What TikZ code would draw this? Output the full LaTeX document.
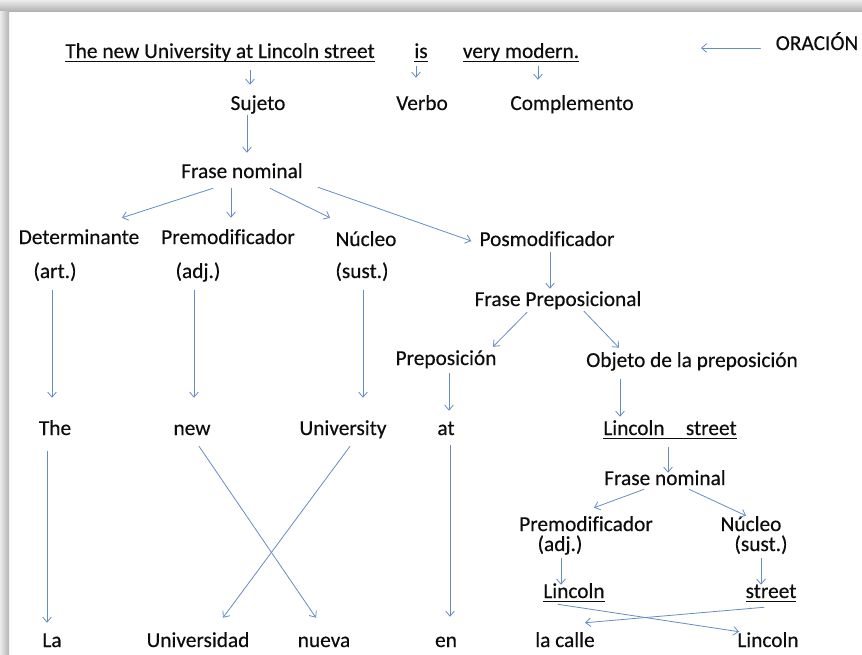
\documentclass[tikz,border=0pt]{standalone}
\usepackage{fontspec}
\setmainfont{Carlito}
\newfontfamily\lblfont{Carlito}[FakeBold=0.4,Ligatures={NoCommon}]
\usetikzlibrary{calc,arrows.meta}
\definecolor{lineblue}{rgb}{0.40,0.55,0.76}
\definecolor{txtgray}{rgb}{0.05,0.05,0.05}
\newcommand{\ulword}[1]{\setbox0=\hbox{#1}\rlap{\rule[-3pt]{\wd0}{1pt}}\box0}

\begin{document}
\begin{tikzpicture}[line cap=round,line join=round,>={Straight Barb[length=3.8pt,width=6.5pt]},x=0.75pt,y=-0.75pt,
  lbl/.style={anchor=base,inner sep=0pt,text height=12pt,text depth=3pt,font=\lblfont\fontsize{16}{19}\selectfont,text=txtgray},
  arr/.style={->,draw=lineblue,line width=0.6pt}]
\useasboundingbox (0,0) rectangle (862,654);
\shade [top color=gray!15,bottom color=gray!60] (0,0) rectangle (862,11);
\shade [left color=gray!15,right color=gray!60] (0,11) rectangle (9,654);
\node [lbl] (subj) at (220,58) {\ulword{The new University at Lincoln street}};
\node [lbl] (is) at (421,58) {\ulword{is}};
\node [lbl] (vm) at (521,58) {\ulword{very modern.}};
\node [lbl] (oracion) at (817,50) {ORACIÓN};
\coordinate (orac-tip) at (701,48);
\node [lbl] (suj) at (258,110) {Sujeto};
\node [lbl] (verbo) at (422,110) {Verbo};
\node [lbl] (compl) at (572,110) {Complemento};
\node [lbl] (fn) at (242,178) {Frase nominal};
\node [lbl] (det) at (79,244) {Determinante};
\node [lbl] (pre) at (228,244) {Premodificador};
\node [lbl] (nuc) at (366,246) {Núcleo};
\node [lbl] (pos) at (547,246) {Posmodificador};
\node [lbl] (art) at (55,278) {(art.)};
\node [lbl] (adj) at (198,278) {(adj.)};
\node [lbl] (sust) at (362,278) {(sust.)};
\node [lbl] (fp) at (558,306) {Frase Preposicional};
\node [lbl] (prep) at (446,365) {Preposición};
\node [lbl] (obj) at (692,367) {Objeto de la preposición};
\node [lbl] (the) at (55,435) {The};
\node [lbl] (new) at (192,435) {new};
\node [lbl] (univ) at (343,435) {University};
\node [lbl] (at) at (446,435) {at};
\node [lbl] (ls) at (670,435) {\ulword{Lincoln\hspace{1em}street}};
\node [lbl] (fn2) at (665,485) {Frase nominal};
\node [lbl] (pre2) at (586,531) {Premodificador};
\node [lbl] (nuc2) at (751,531) {Núcleo};
\node [lbl] (adj2) at (560,551) {(adj.)};
\node [lbl] (sust2) at (761,551) {(sust.)};
\node [lbl] (lin2) at (574,598) {\ulword{Lincoln}};
\node [lbl] (str2) at (771,598) {\ulword{street}};
\node [lbl] (la) at (52,647) {La};
\node [lbl] (unid) at (198,647) {Universidad};
\node [lbl] (nueva) at (324,647) {nueva};
\node [lbl] (en) at (446,647) {en};
\node [lbl] (calle) at (565,647) {la calle};
\node [lbl] (lin3) at (768,647) {Lincoln};
\draw [arr] ($(subj.south)+(30,8)$) -- ($(suj.north)+(-8,-9)$);
\draw [arr] ($(is.south)+(-5,4)$) -- ($(verbo.north)+(-6,-16)$);
\draw [arr] ($(vm.south)+(17,4)$) -- ($(compl.north)+(-34,-14)$);
\draw [arr] ($(oracion.west)+(-15,4)$) -- (orac-tip);
\draw [arr] ($(suj.south)+(-11,1)$) -- ($(fn.north)+(5,-9)$);
\draw [arr] ($(fn.south)+(-29,6)$) -- ($(det.north)+(43,-10)$);
\draw [arr] ($(fn.south)+(-11,6)$) -- ($(pre.north)+(3,-10)$);
\draw [arr] ($(fn.south)+(28,6)$) -- ($(nuc.north)+(-36,-12)$);
\draw [arr] ($(fn.south)+(76,5)$) -- ($(pos.west)+(-8,1)$);
\draw [arr] ($(art.south)+(-3,8)$) -- ($(the.north)+(-3,-21)$);
\draw [arr] ($(adj.south)+(-4,8)$) -- ($(new.north)+(2,-21)$);
\draw [arr] ($(sust.south)+(1,8)$) -- ($(univ.north)+(20,-21)$);
\draw [arr] ($(pos.south)+(3,2)$) -- ($(fp.north)+(-8,-1)$);
\draw [arr] ($(fp.south)+(-31,2)$) -- ($(prep.north)+(47,-2)$);
\draw [arr] ($(fp.south)+(26,1)$) -- ($(obj.north)+(-73,-3)$);
\draw [arr] ($(prep.south)+(3,4)$) -- ($(at.north)+(3,-8)$);
\draw [arr] ($(obj.south)+(-72,8)$) -- ($(ls.north)+(-50,-2)$);
\draw [arr] ($(ls.south)+(-2,8)$) -- ($(fn2.north)+(3,4)$);
\draw [arr] ($(fn2.south)+(-21,0)$) -- ($(pre2.north)+(8,-7)$);
\draw [arr] ($(fn2.south)+(24,0)$) -- ($(nuc2.north)+(-5,1)$);
\draw [arr] ($(adj2.south)+(1,3)$) -- ($(lin2.north)+(-13,3)$);
\draw [arr] ($(sust2.south)+(0,3)$) -- ($(str2.north)+(-10,3)$);
\draw [arr] ($(lin2.south)+(-16,2)$) -- ($(lin3.north)+(-29,1)$);
\draw [arr] ($(str2.south)+(-7,5)$) -- ($(calle.north)+(20,-8)$);
\draw [arr] ($(the.south)+(-8,12)$) -- ($(la.north)+(-5,-8)$);
\draw [arr] ($(new.south)+(7,7)$) -- ($(nueva.north)+(-8,-13)$);
\draw [arr] ($(univ.south)+(7,7)$) -- ($(unid.north)+(25,-13)$);
\draw [arr] ($(at.south)+(4,6)$) -- ($(en.north)+(4,-14)$);
\end{tikzpicture}
\end{document}
